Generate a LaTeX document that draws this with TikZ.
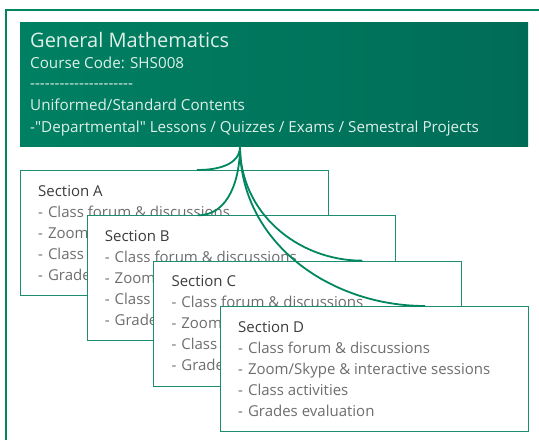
\documentclass[tikz,border=0pt]{standalone}
\usepackage{fontspec}
\setmainfont{Open Sans}
\usepackage{xcolor}
\usepackage{tikz}
\definecolor{frameGreen}{RGB}{0,135,95}
\definecolor{boxGreen}{RGB}{30,140,110}
\definecolor{hdrLeft}{RGB}{0,128,98}
\definecolor{hdrRight}{RGB}{0,108,88}
\definecolor{hdrInk}{RGB}{222,240,232}
\definecolor{titleInk}{RGB}{60,60,60}
\definecolor{itemInk}{RGB}{110,110,110}
\newcommand{\itm}[1]{\\-\hspace{5pt}#1}
\newcommand{\dashrow}{-{}-{}-{}-{}-{}-{}-{}-{}-{}-{}-{}-{}-{}-{}-{}-{}-{}-{}-{}-{}-}
\tikzset{
hdrbox/.style={
  anchor=north west,
  minimum width=508pt,
  minimum height=124pt,
  inner sep=0pt,
  left color=hdrLeft,
  right color=hdrRight
},
hdrtext/.style={anchor=base west,inner sep=0pt,text=hdrInk,font=\fontsize{15.2}{18}\selectfont},
secbox/.style={
  anchor=north west,
  draw=boxGreen,
  line width=1pt,
  fill=white,
  minimum width=308pt,
  minimum height=125pt,
  inner sep=0pt
},
sectext/.style={
  anchor=north west,
  inner sep=0pt,
  align=left,
  text=itemInk,
  font=\fontsize{15}{21}\selectfont
},
link/.style={draw=frameGreen,line width=1.8pt}
}

\begin{document}
\begin{tikzpicture}[x=1pt,y=-1pt]
\useasboundingbox (0,0) rectangle (539,440);
% the outer frame
\draw[frameGreen,line width=1.4pt] (6,440) -- (6,10) -- (539,10);
% the course header
\node[hdrbox] (hdr) at (20,22) {};
\node[hdrtext,font=\fontsize{20}{24}\selectfont] (hdrTitle) at (30,47) {General Mathematics};
\node[hdrtext] (hdrCode) at (30,68) {Course Code: SHS008};
\node[hdrtext] (hdrRule) at (30,88) {\dashrow};
\node[hdrtext] (hdrStd) at (30,110) {Uniformed/Standard Contents};
\node[hdrtext] (hdrList) at (30,132) {-\textquotedbl Departmental\textquotedbl{} Lessons / Quizzes / Exams / Semestral Projects};
\coordinate (hub) at ([xshift=220pt]hdr.south west);
% the section boxes
\foreach \s [count=\i from 0] in {A,B,C,D}
{
  \node[secbox] (sec\s) at ({20+66.67*\i},{170+45.33*\i}) {};
  \node[sectext] (txt\s) at ([xshift=18pt,yshift=-15pt]sec\s.north west)
    {\textcolor{titleInk}{Section \s}\itm{Class forum \& discussions}\itm{Zoom/Skype \& interactive sessions}\itm{Class activities}\itm{Grades evaluation}};
}
% the links
\draw[link] (hub) to[out=-90,in=0] ([xshift=177pt]secA.north west);
\draw[link] (hub) to[out=-90,in=0] ([xshift=111pt]secB.north west);
\draw[link] (hub) to[out=-90,in=180] ([xshift=209pt]secC.north west);
\draw[link] (hub) to[out=-90,in=180] ([xshift=205pt]secD.north west);
\end{tikzpicture}
\end{document}
